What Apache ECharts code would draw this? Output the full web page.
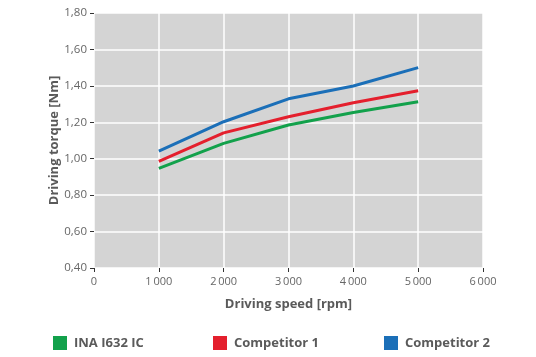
<!DOCTYPE html>
<html><head><meta charset="utf-8">
<script src="https://cdn.jsdelivr.net/npm/echarts@6/dist/echarts.min.js"></script>
<style>html,body{margin:0;padding:0;background:#fff}#c{width:536px;height:357px}</style>
</head><body><div id="c"></div>
<script>
const speeds = [1000, 2000, 3000, 4000, 5000];
const inaI632 = [0.947, 1.084, 1.185, 1.254, 1.313];
const competitor1 = [0.985, 1.142, 1.230, 1.307, 1.373];
const competitor2 = [1.042, 1.203, 1.329, 1.399, 1.500];
const seriesNames = ['INA I632 IC', 'Competitor 1', 'Competitor 2'];
const colors = ['#12a14b', '#e41f2d', '#1b6fb8'];
const xTitle = 'Driving speed [rpm]';
const yTitle = 'Driving torque [Nm]';

const font = '"Open Sans", "Noto Sans", sans-serif';
const chart = echarts.init(document.getElementById('c'));
const mk = (arr) => speeds.map((s, i) => [s, arr[i]]);
const datas = [inaI632, competitor1, competitor2];
const legendLefts = [48, 208, 379];
chart.setOption({
  animation: false,
  grid: {left: 94, right: 53, top: 13, bottom: 89, show: true, backgroundColor: '#d4d4d4', borderWidth: 0},
  xAxis: {
    type: 'value', min: 0, max: 6000, interval: 1000,
    axisLine: {show: false},
    axisTick: {show: true, length: 4, lineStyle: {color: '#333'}},
    splitLine: {show: true, lineStyle: {color: '#fff', width: 1.5}},
    axisLabel: {color: '#666', fontFamily: font, fontSize: 11, margin: 8,
      formatter: v => v === 0 ? '0' : String(v).replace(/(\d)(\d{3})$/, '$1\u2009$2')},
    name: xTitle, nameLocation: 'middle', nameGap: 30, nameMoveOverlap: false,
    nameTextStyle: {color: '#5a5a5a', fontFamily: font, fontSize: 13, fontWeight: 'bold'}
  },
  yAxis: {
    type: 'value', min: 0.4, max: 1.8, interval: 0.2,
    axisLine: {show: false},
    axisTick: {show: true, length: 4, lineStyle: {color: '#333'}},
    splitLine: {show: true, lineStyle: {color: '#fff', width: 1.5}},
    axisLabel: {color: '#666', fontFamily: font, fontSize: 11.5, margin: 7,
      formatter: v => v.toFixed(2).replace('.', ',')},
    name: yTitle, nameLocation: 'middle', nameGap: 33, nameMoveOverlap: false,
    nameTextStyle: {color: '#5a5a5a', fontFamily: font, fontSize: 13, fontWeight: 'bold'}
  },
  legend: seriesNames.map((n, i) => ({
    data: [n], left: legendLefts[i], top: 331, itemWidth: 14, itemHeight: 14,
    icon: 'rect', itemGap: 10,
    textStyle: {color: '#5a5a5a', fontFamily: font, fontSize: 13, fontWeight: 'bold', padding: [0,0,0,2]}
  })),
  series: seriesNames.map((n, i) => ({
    name: n, type: 'line', data: mk(datas[i]), symbol: 'none',
    lineStyle: {color: colors[i], width: 3}, itemStyle: {color: colors[i]}
  }))
});
</script></body></html>
